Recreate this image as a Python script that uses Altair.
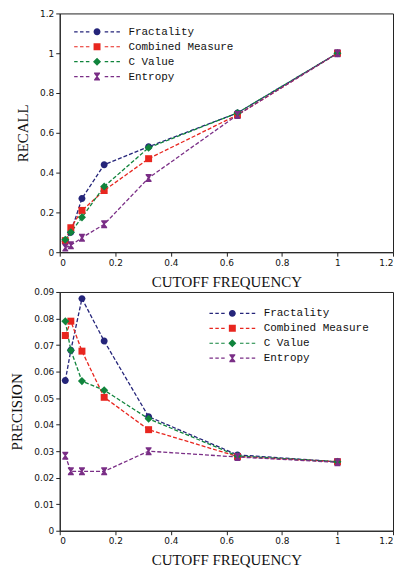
import altair as alt
import pandas as pd

cutoff = [0.02, 0.04, 0.08, 0.16, 0.32, 0.64, 1.0]
series_names = ["Fractality", "Combined Measure", "C Value", "Entropy"]
series_colors = ["#25257A", "#E8261F", "#10843C", "#7A2E86"]

recall_fractality = [0.055, 0.10, 0.27, 0.44, 0.53, 0.70, 1.0]
recall_combined = [0.058, 0.123, 0.21, 0.31, 0.47, 0.69, 1.0]
recall_cvalue = [0.063, 0.10, 0.175, 0.33, 0.525, 0.70, 1.0]
recall_entropy = [0.023, 0.035, 0.073, 0.14, 0.373, 0.69, 1.0]

precision_fractality = [0.0566, 0.068, 0.0875, 0.0715, 0.043, 0.0286, 0.026]
precision_combined = [0.0736, 0.079, 0.0677, 0.0503, 0.0381, 0.028, 0.026]
precision_cvalue = [0.079, 0.068, 0.0564, 0.053, 0.0422, 0.0282, 0.026]
precision_entropy = [0.0283, 0.0224, 0.0224, 0.0224, 0.030, 0.0278, 0.0258]

x_ticks = [0, 0.2, 0.4, 0.6, 0.8, 1.0, 1.2]
recall_ticks = [0, 0.2, 0.4, 0.6, 0.8, 1.0, 1.2]
precision_ticks = [0, 0.01, 0.02, 0.03, 0.04, 0.05, 0.06, 0.07, 0.08, 0.09]

recall_lists = [recall_fractality, recall_combined, recall_cvalue, recall_entropy]
precision_lists = [precision_fractality, precision_combined, precision_cvalue, precision_entropy]


def build_frame(lists):
    rows = []
    for i, (name, vals) in enumerate(zip(series_names, lists)):
        for j, (c, v) in enumerate(zip(cutoff, vals)):
            rows.append({"series": name, "cutoff": c, "value": v, "sidx": i, "pidx": j})
    return pd.DataFrame(rows)


# marker shapes (unit coordinates, scaled by sqrt(size)/2)
circle_m = "M{r},0 A{r},{r} 0 1,1 -{r},0 A{r},{r} 0 1,1 {r},0 Z"
square_m = "M-{r},-{r} L{r},-{r} L{r},{r} L-{r},{r} Z"
diamond_m = "M0,-{r} L{r},0 L0,{r} L-{r},0 Z"
hour_m = ("M-{a},-{r} L{a},-{r} L{a},-{b} L{c},0 L{a},{b} L{a},{r} L-{a},{r} "
          "L-{a},{b} L-{c},0 L-{a},-{b} Z")


def markers(r):
    return [
        circle_m.format(r=r),
        square_m.format(r=r),
        diamond_m.format(r=r * 1.15),
        hour_m.format(r=r * 1.15, a=r * 0.85, b=r * 0.8, c=r * 0.2),
    ]


# legend sample: dashed line extending beyond the marker (units: 3.5px)
SPAN = 23.0 / 3.5


def dashes(half=0.17):
    parts = []
    dash, gap = 3.5 / 3.5, 2.4 / 3.5
    inner = 1.6
    x = -SPAN
    while x < -inner:
        x2 = min(x + dash, -inner)
        parts.append(f"M{x:.3f},-{half} L{x2:.3f},-{half} L{x2:.3f},{half} L{x:.3f},{half} Z")
        parts.append(f"M{-x2:.3f},-{half} L{-x:.3f},-{half} L{-x:.3f},{half} L{-x2:.3f},{half} Z")
        x = x2 + gap
    return " ".join(parts)


point_paths = markers(1.0)
legend_paths = [m + " " + dashes() for m in markers(1.0)]

color_scale = alt.Scale(domain=series_names, range=series_colors)


def legend_def(lx, ly):
    return alt.Legend(title=None, orient="none", legendX=lx, legendY=ly,
                      symbolSize=49, labelFont="Liberation Mono",
                      labelFontSize=11, labelColor="#111", rowPadding=3,
                      labelOffset=26, symbolStrokeWidth=0, symbolOpacity=1)


def panel(lists, ytitle, yticks, ymax, lx, ly, h):
    df = build_frame(lists)
    base = alt.Chart(df)
    xenc = alt.X("cutoff:Q", scale=alt.Scale(domain=[0, 1.2], nice=False),
                 axis=alt.Axis(values=x_ticks, format=".1~f", title="CUTOFF FREQUENCY"))
    yenc = alt.Y("value:Q", scale=alt.Scale(domain=[0, ymax], nice=False),
                 axis=alt.Axis(values=yticks, format=".2~f", title=ytitle))
    lines = base.mark_line(strokeDash=[4, 2], strokeWidth=1.3).encode(
        x=xenc, y=yenc,
        color=alt.Color("series:N", scale=color_scale, legend=None),
        detail="series:N",
        order="pidx:Q",
    )
    pts = base.mark_point(filled=True, size=49, opacity=1, strokeWidth=0).encode(
        x=xenc, y=yenc,
        color=alt.Color("series:N", scale=color_scale, legend=None),
        shape=alt.Shape("series:N", scale=alt.Scale(domain=series_names, range=point_paths), legend=None),
    )
    leg = base.mark_point(filled=True, size=49, opacity=1, strokeWidth=0).encode(
        x=xenc, y=yenc,
        color=alt.Color("series:N", scale=color_scale, legend=legend_def(lx, ly)),
        shape=alt.Shape("series:N", scale=alt.Scale(domain=series_names, range=legend_paths),
                        legend=legend_def(lx, ly)),
    ).transform_filter("false")
    return (alt.layer(lines, leg, pts)
            .resolve_scale(shape="independent")
            .resolve_legend(color="independent", shape="independent")
            .properties(width=335, height=h))


top = panel(recall_lists, "RECALL", recall_ticks, 1.2, 32, 13, 240)
bottom = panel(precision_lists, "PRECISION", precision_ticks, 0.09, 168, 16, 240)

chart = alt.vconcat(top, bottom, spacing=-3).properties(
    padding={"left": 1, "top": -1, "right": 0, "bottom": 0}
).configure_view(stroke="#222", strokeWidth=1).configure_axis(
    grid=False, domainColor="#222", tickColor="#222", tickSize=4,
    labelFont="DejaVu Sans", labelFontSize=9, labelColor="#111", labelPadding=2,
    titleFont="Liberation Serif", titleFontSize=15, titleFontWeight="normal", titleColor="#111",
).configure_axisX(titlePadding=7).configure_axisY(titlePadding=9)

chart.save("out.html", embed_options={"renderer": "svg", "actions": False})
